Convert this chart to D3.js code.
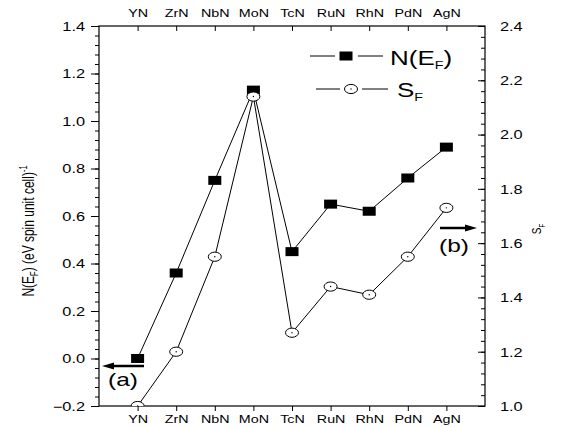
<!DOCTYPE html>
<html>
<head>
<meta charset="utf-8">
<script src="https://cdn.jsdelivr.net/npm/d3@7"></script>
<style>
  body { margin: 0; background: #fff; }
  svg { display: block; font-family: "Liberation Sans", Arial, sans-serif; }
</style>
</head>
<body>
<div id="chart"></div>
<script>
const width = 561, height = 427;

// data
const nitrides = ["YN", "ZrN", "NbN", "MoN", "TcN", "RuN", "RhN", "PdN", "AgN"];
const nEF = [0.00, 0.36, 0.75, 1.13, 0.45, 0.65, 0.62, 0.76, 0.89];
const sF = [1.00, 1.20, 1.55, 2.14, 1.27, 1.44, 1.41, 1.55, 1.73];
const leftTicks = [-0.2, 0.0, 0.2, 0.4, 0.6, 0.8, 1.0, 1.2, 1.4];
const rightTicks = [1.0, 1.2, 1.4, 1.6, 1.8, 2.0, 2.2, 2.4];

const plot = {left: 99, right: 485, top: 26, bottom: 406};
const stretch = 1.36; // the picture's text is wider than tall

const svg = d3.select("#chart")
    .append("svg")
    .attr("width", width)
    .attr("height", height);

const x = d3.scalePoint()
    .domain(nitrides)
    .range([plot.left, plot.right])
    .padding(1);

const yL = d3.scaleLinear().domain([-0.2, 1.4]).range([plot.bottom, plot.top]);
const yR = d3.scaleLinear().domain([1.0, 2.4]).range([plot.bottom, plot.top]);

// widen each label by the stretch factor
function widen(sel) {
    sel.each(function() {
        const len = this.getComputedTextLength();
        d3.select(this)
            .attr("textLength", len * stretch)
            .attr("lengthAdjust", "spacingAndGlyphs");
    });
}

function minorValues(lo, hi, step) {
    const out = [];
    for (let v = lo; v <= hi + 1e-9; v += step) out.push(+v.toFixed(3));
    return out;
}

// left axis
const leftMinor = svg.append("g")
    .attr("transform", `translate(${plot.left},0)`)
    .call(d3.axisLeft(yL).tickValues(minorValues(-0.2, 1.4, 0.04)).tickSize(4).tickFormat(""));
const leftAxis = svg.append("g")
    .attr("transform", `translate(${plot.left},0)`)
    .call(d3.axisLeft(yL).tickValues(leftTicks).tickSize(8).tickPadding(6)
        .tickFormat(d3.format(".1f")));

// right axis (ticks point inward)
const rightMinor = svg.append("g")
    .attr("transform", `translate(${plot.right},0)`)
    .call(d3.axisRight(yR).tickValues(minorValues(1.0, 2.4, 0.04)).tickSize(-4).tickFormat(""));
const rightAxis = svg.append("g")
    .attr("transform", `translate(${plot.right},0)`)
    .call(d3.axisRight(yR).tickValues(rightTicks).tickSize(-7).tickPadding(15)
        .tickFormat(d3.format(".1f")));

// bottom and top category axes
const bottomAxis = svg.append("g")
    .attr("transform", `translate(0,${plot.bottom})`)
    .call(d3.axisBottom(x).tickSize(5).tickPadding(5));
const topAxis = svg.append("g")
    .attr("transform", `translate(0,${plot.top})`)
    .call(d3.axisTop(x).tickSize(-5).tickPadding(9));

[leftMinor, leftAxis, rightMinor, rightAxis, bottomAxis, topAxis].forEach(g => {
    g.select(".domain").remove();
    g.selectAll(".tick line").style("stroke", "#000").style("stroke-width", 1);
});

leftAxis.selectAll("text").attr("font-size", 12).attr("fill", "#000").attr("dy", "0.36em");
rightAxis.selectAll("text").attr("font-size", 12).attr("fill", "#000").attr("dy", "0.36em");
bottomAxis.selectAll("text").attr("font-size", 10.5).attr("fill", "#000");
topAxis.selectAll("text").attr("font-size", 10.5).attr("fill", "#000");
widen(leftAxis.selectAll("text"));
widen(rightAxis.selectAll("text"));
widen(bottomAxis.selectAll("text"));
widen(topAxis.selectAll("text"));

// frame
svg.append("rect")
    .attr("x", plot.left)
    .attr("y", plot.top)
    .attr("width", plot.right - plot.left)
    .attr("height", plot.bottom - plot.top)
    .attr("fill", "none")
    .attr("stroke", "#000")
    .attr("stroke-width", 1.2);

// axis titles
const leftTitle = svg.append("text")
    .attr("transform", `translate(28,231) scale(${stretch},1) rotate(-90)`)
    .attr("text-anchor", "middle")
    .attr("dy", "0.35em")
    .attr("font-size", 12)
    .attr("fill", "#000");
leftTitle.append("tspan").text("N(E");
leftTitle.append("tspan").attr("font-size", 7.5).attr("dy", 3).text("F");
leftTitle.append("tspan").attr("dy", -3).text(") (eV spin unit cell)");
leftTitle.append("tspan").attr("font-size", 7.5).attr("dy", -5).text("-1");

const rightTitle = svg.append("text")
    .attr("transform", `translate(536,229) scale(${stretch},1) rotate(-90)`)
    .attr("text-anchor", "middle")
    .attr("dy", "0.35em")
    .attr("font-size", 10)
    .attr("fill", "#000");
rightTitle.append("tspan").text("S");
rightTitle.append("tspan").attr("font-size", 6).attr("dy", 3).text("F");

// series
svg.append("clipPath")
    .attr("id", "plot-clip")
    .append("rect")
    .attr("x", plot.left)
    .attr("y", plot.top)
    .attr("width", plot.right - plot.left)
    .attr("height", plot.bottom - plot.top);

const series = svg.append("g").attr("clip-path", "url(#plot-clip)");

const lineN = d3.line().x((d, i) => x(nitrides[i])).y(d => yL(d));
const lineS = d3.line().x((d, i) => x(nitrides[i])).y(d => yR(d));

series.append("path")
    .datum(nEF)
    .attr("d", lineN)
    .attr("fill", "none")
    .attr("stroke", "#000")
    .attr("stroke-width", 1);

series.append("path")
    .datum(sF)
    .attr("d", lineS)
    .attr("fill", "none")
    .attr("stroke", "#000")
    .attr("stroke-width", 1);

function squareMarker(g, cx, cy) {
    g.append("rect")
        .attr("x", cx - 6.5)
        .attr("y", cy - 4.5)
        .attr("width", 13)
        .attr("height", 9)
        .attr("fill", "#000");
}

function circleMarker(g, cx, cy) {
    g.append("ellipse")
        .attr("cx", cx)
        .attr("cy", cy)
        .attr("rx", 6.5)
        .attr("ry", 4.6)
        .attr("fill", "#fff")
        .attr("stroke", "#000")
        .attr("stroke-width", 1);
    g.append("circle")
        .attr("cx", cx)
        .attr("cy", cy)
        .attr("r", 0.7)
        .attr("fill", "#000");
}

nEF.forEach((v, i) => squareMarker(series, x(nitrides[i]), yL(v)));
sF.forEach((v, i) => circleMarker(series, x(nitrides[i]), yR(v)));

// legend: line, gap, marker, gap, line
const legend = svg.append("g");
function legendLine(x1, x2, y) {
    legend.append("line").attr("x1", x1).attr("x2", x2).attr("y1", y).attr("y2", y)
        .attr("stroke", "#000").attr("stroke-width", 1);
}
legendLine(310, 335, 56);
legendLine(358, 383, 56);
squareMarker(legend, 346, 56);
legendLine(316, 340, 89);
legendLine(362, 388, 89);
circleMarker(legend, 351, 89);

const legN = legend.append("text")
    .attr("transform", `translate(390,65) scale(1.3,1)`)
    .attr("font-size", 20)
    .attr("fill", "#000");
legN.append("tspan").text("N(E");
legN.append("tspan").attr("font-size", 11).attr("dy", 4).text("F");
legN.append("tspan").attr("dy", -4).text(")");

const legS = legend.append("text")
    .attr("transform", `translate(397,97) scale(1.3,1)`)
    .attr("font-size", 20)
    .attr("fill", "#000");
legS.append("tspan").text("S");
legS.append("tspan").attr("font-size", 11).attr("dy", 4).text("F");

// arrows pointing to each axis
function arrow(x1, x2, y) {
    const dir = Math.sign(x2 - x1);
    svg.append("line")
        .attr("x1", x1)
        .attr("x2", x2 - dir * 9)
        .attr("y1", y)
        .attr("y2", y)
        .attr("stroke", "#000")
        .attr("stroke-width", 2.5);
    svg.append("path")
        .attr("d", `M${x2},${y} L${x2 - dir * 12},${y - 3.5} L${x2 - dir * 12},${y + 3.5} Z`)
        .attr("fill", "#000");
}
arrow(144, 102, 366);
arrow(440, 477, 228);

svg.append("text")
    .attr("transform", `translate(108,386) scale(${stretch},1)`)
    .attr("font-size", 18)
    .attr("fill", "#000")
    .text("(a)");

svg.append("text")
    .attr("transform", `translate(439,252) scale(${stretch},1)`)
    .attr("font-size", 18)
    .attr("fill", "#000")
    .text("(b)");
</script>
</body>
</html>
